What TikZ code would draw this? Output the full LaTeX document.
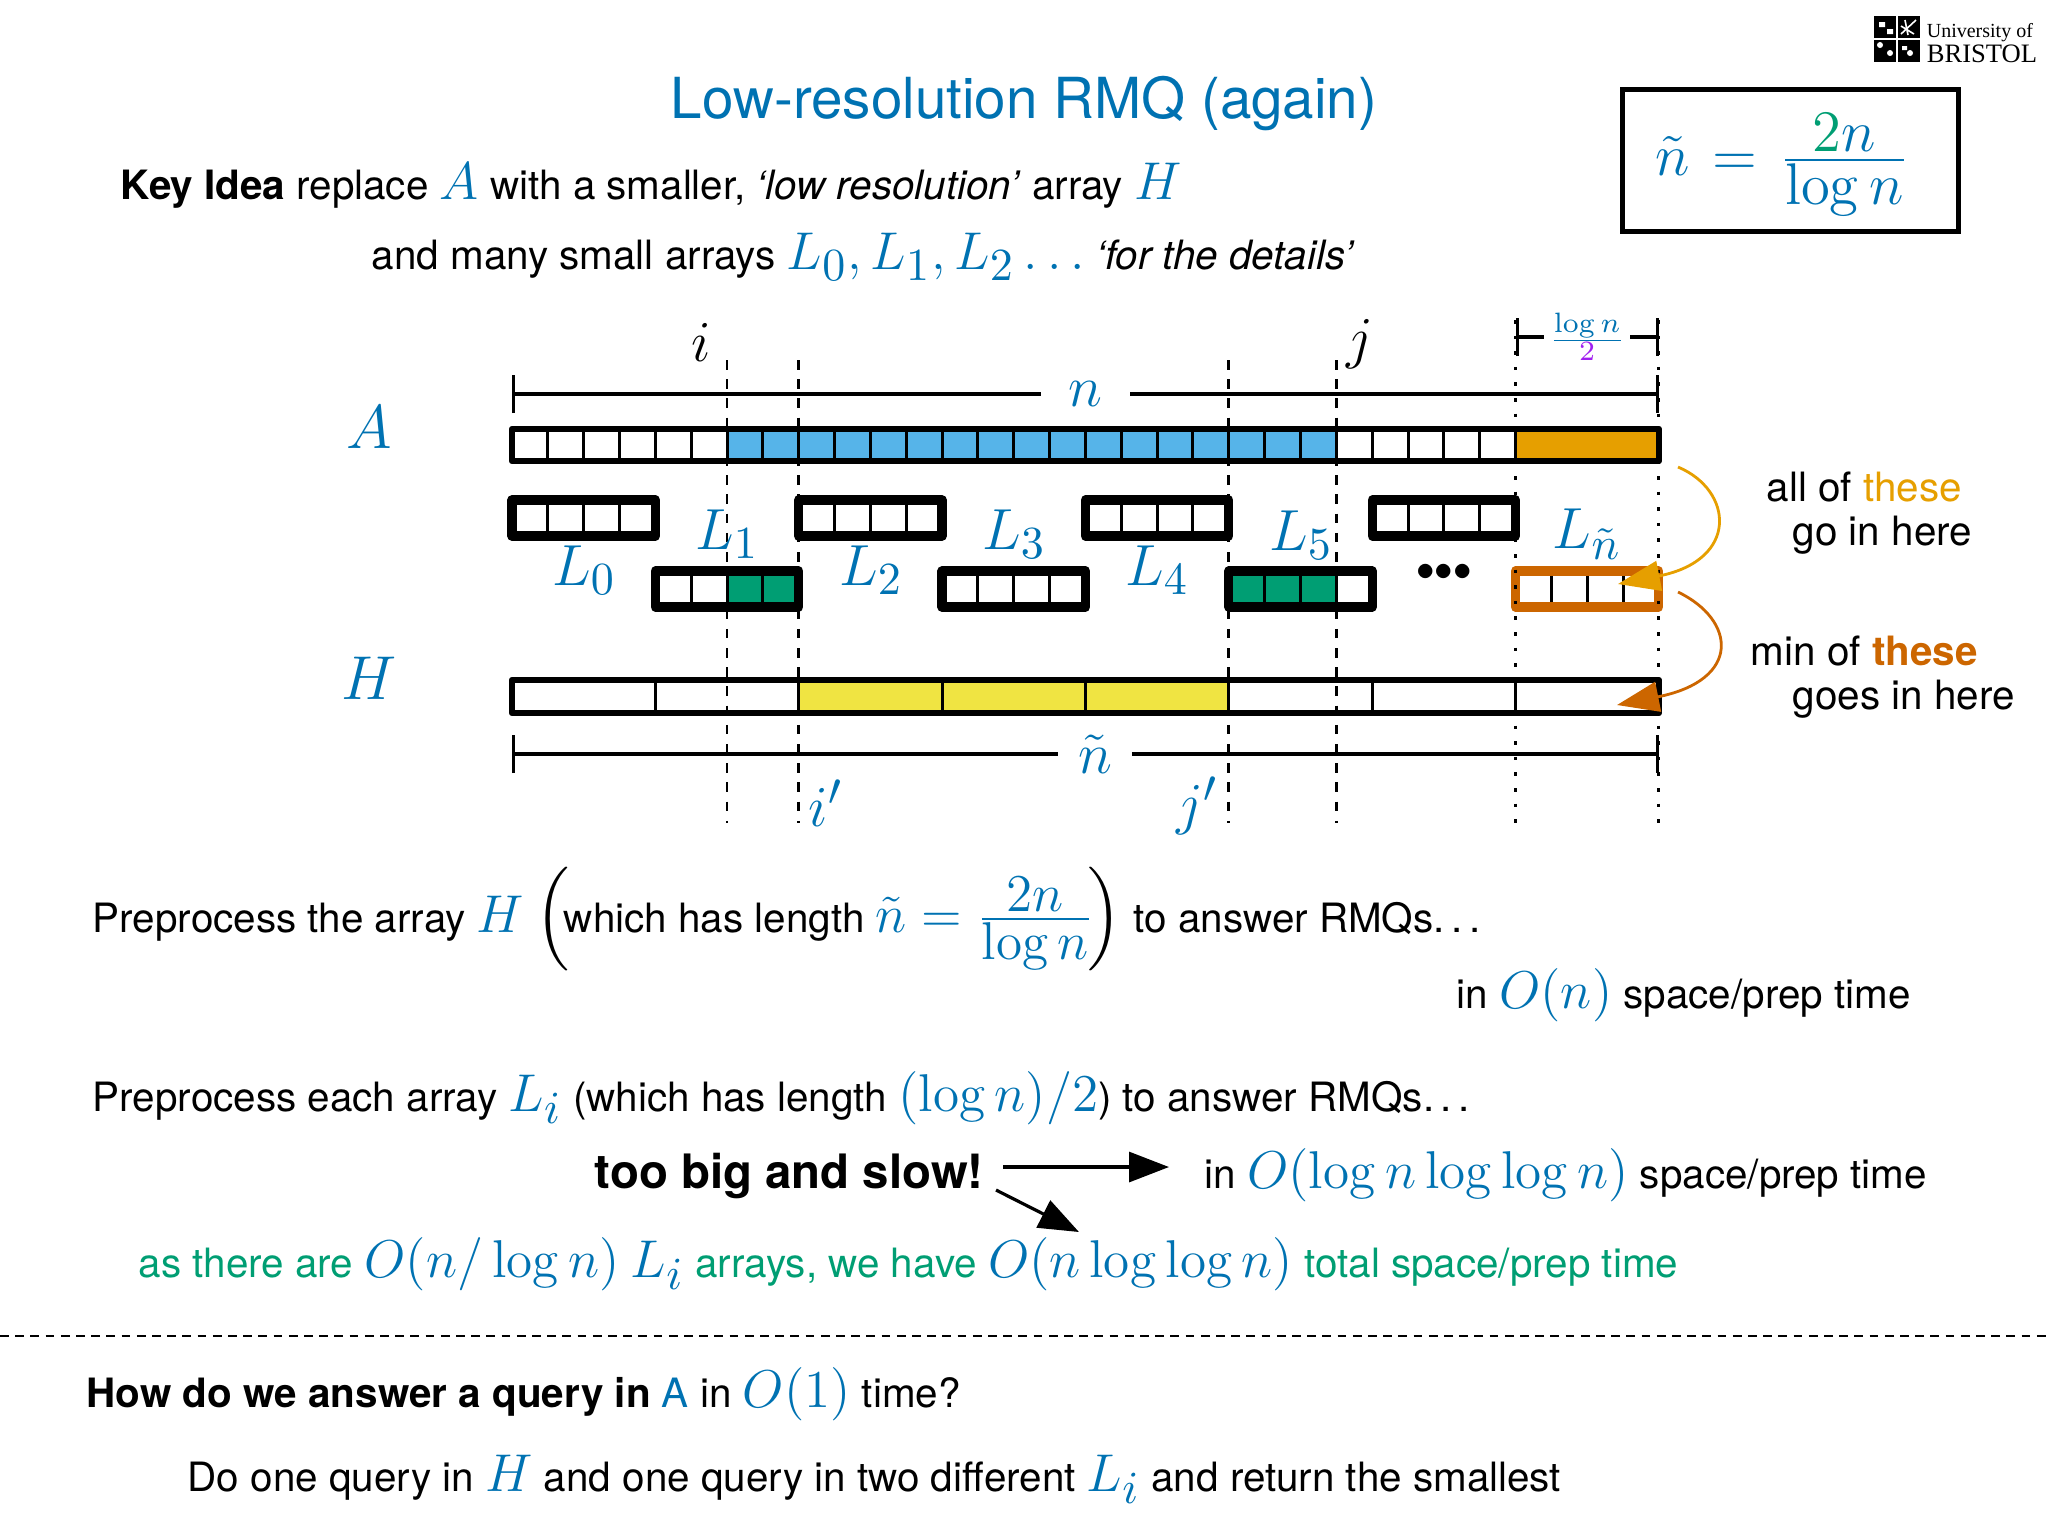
\RequirePackage{fix-cm}
\documentclass[tikz,border=0pt]{standalone}
\usepackage{amsmath}
\usepackage[no-math]{fontspec}
\setmainfont{TeX Gyre Heros}
\newfontfamily\logofont{Liberation Serif}
\usetikzlibrary{arrows.meta}
\DeclareMathSizes{10.1}{13.3}{11.5}{8}
\DeclareMathSizes{14.5}{14.5}{11.5}{9}
\definecolor{rmqblue}{HTML}{0072B2}
\definecolor{cellblue}{HTML}{56B4E9}
\definecolor{rmqgreen}{HTML}{009E73}
\definecolor{rmqyellow}{HTML}{F0E442}
\definecolor{rmqorange}{HTML}{E69F00}
\definecolor{rmqrust}{HTML}{CC6600}
\definecolor{rmqpurple}{HTML}{A020F0}
\newcommand{\mth}[1]{\textcolor{rmqblue}{$#1$}}
\newcommand{\slim}[2]{\frac{\displaystyle #1}{\displaystyle #2}}
\newcommand{\inL}[4]{\fill[#4] (#1,#3) rectangle (#2,#3+36);}
\newcommand{\sarr}[3]{\foreach \k in {1,2,3} \draw[cut] (#1+\k,#2) -- (#1+\k,#2+36); \draw[lbox,draw=#3] (#1,#2) rectangle (#1+4,#2+36);}
\tikzset{
	cut/.style={line width=.75pt},
	abox/.style={line width=1.6pt,line join=round},
	lbox/.style={line width=2.3pt,line join=round},
	guide/.style={line width=.7pt,dash pattern=on 2.4pt off 2.4pt},
	spot/.style={line width=.7pt,dash pattern=on .9pt off 3pt},
	dim/.style={line width=.8pt},
	txt/.style={anchor=base west,inner sep=0pt,font=\fontsize{10.1}{12}\selectfont},
	lab/.style={inner sep=0pt,font=\fontsize{14.5}{17}\selectfont},
	note/.style={line width=.7pt,-{Triangle[length=10.5pt,width=7.5pt]}},
	shout/.style={line width=.8pt,-{Triangle[length=10pt,width=7.5pt]}}
}
\begin{document}
\begin{tikzpicture}[x=.25pt,y=-.25pt]
	\useasboundingbox (0,0) rectangle (2048,1536);

	\node[anchor=base,inner sep=0pt,font=\fontsize{14.15}{17}\selectfont,text=rmqblue] (title) at (1024,118) {Low-resolution RMQ (again)};

	% logo
	\fill (1874,16) rectangle (1920,62);
	\draw[white,line width=.3pt] (1897,16) -- (1897,62) (1874,39) -- (1920,39);
	\fill[white] (1879,22) rectangle (1885,27) (1887,29) rectangle (1893,34) (1880,45) circle (3) (1890,53) circle (3) (1902,46) rectangle (1907,50) (1910,53) circle (3);
	\draw[white,line width=.4pt] (1901,34) -- (1916,20) (1901,26) -- (1914,34) (1905,20) -- (1908,35);
	\node[txt,font=\logofont\fontsize{5}{6}\selectfont] (univ) at (1926,37) {University of};
	\node[txt,font=\logofont\fontsize{6.65}{7}\selectfont] (bris) at (1926,62) {BRISTOL};

	% definition box
	\draw[line width=1.25pt] (1622,89) rectangle (1958,231);
	\node[inner sep=0pt,font=\fontsize{14.7}{18}\selectfont] (def) at (1782,165)
		{\textcolor{rmqblue}{$\tilde{n}\mkern 2mu=\mkern 2mu\slim{\textcolor{rmqgreen}{2}n}{\log n}$}};

	\node[txt] (key) at (120,199) {\textbf{Key Idea} replace \mth{A} with a smaller, \textit{‘low resolution’} array \mth{H}};
	\node[txt] (many) at (371,269) {and many small arrays \mth{L_0, L_1, L_2\ldots} \textit{‘for the details’}};

	\begin{scope}[shift={(512,0)},x=8.96pt]
		% array A
		\fill[cellblue] (6,429) rectangle (23,461);
		\fill[rmqorange] (28,429) rectangle (32,461);
		\foreach \k in {1,...,28} \draw[cut] (\k,429) -- (\k,461);
		\draw[abox] (0,429) rectangle (32,461);

		% small arrays
		\inL{6}{8}{571}{rmqgreen}
		\inL{20}{23}{571}{rmqgreen}
		\sarr{0}{500}{black}
		\sarr{8}{500}{black}
		\sarr{16}{500}{black}
		\sarr{24}{500}{black}
		\sarr{4}{571}{black}
		\sarr{12}{571}{black}
		\sarr{20}{571}{black}
		\sarr{28}{571}{rmqrust}

		% array H
		\fill[rmqyellow] (8,680) rectangle (20,713);
		\foreach \k in {4,8,...,28} \draw[cut] (\k,680) -- (\k,713);
		\draw[abox] (0,680) rectangle (32,713);

		% guides
		\draw[guide] (6,360) -- (6,823);
		\draw[guide] (8,360) -- (8,823);
		\draw[guide] (20,360) -- (20,823);
		\draw[guide] (23,360) -- (23,823);
		\draw[spot] (28,320) -- (28,823);
		\draw[spot] (32,320) -- (32,823);

		% measures
		\coordinate (nl) at (0,394);
		\coordinate (nr) at (32,394);
		\node[lab,minimum width=22pt] (nlen) at (16,394) {\mth{n}};
		\draw[dim,{Bar[width=9.5pt]}-] (nl) -- (nlen);
		\draw[dim,-{Bar[width=9.5pt]}] (nlen) -- (nr);
		\coordinate (ml) at (0,754);
		\coordinate (mr) at (32,754);
		\node[lab,minimum width=18pt] (mlen) at (16.27,754) {\mth{\tilde{n}}};
		\draw[dim,{Bar[width=9.5pt]}-] (ml) -- (mlen);
		\draw[dim,-{Bar[width=9.5pt]}] (mlen) -- (mr);
		\coordinate (bl) at (28,337);
		\coordinate (br) at (32,337);
		\node[inner sep=0pt,minimum width=21pt,font=\fontsize{7}{8.5}\selectfont] (blen) at (30,337)
			{\textcolor{rmqblue}{$\slim{\log n}{\textcolor{rmqpurple}{2}}$}};
		\draw[dim,{Bar[width=9.5pt]}-] (bl) -- (blen);
		\draw[dim,-{Bar[width=9.5pt]}] (blen) -- (br);
	\end{scope}

	\node[lab,font=\fontsize{15.5}{18}\selectfont] (la) at (369,427) {\mth{A}};
	\node[lab,font=\fontsize{15.5}{18}\selectfont] (lh) at (369,678) {\mth{H}};
	\node[lab] (li) at (701,342) {$i$};
	\node[lab] (lj) at (1360,344) {$j$};
	\node[lab] (lip) at (826,803) {\mth{i'}};
	\node[lab] (ljp) at (1197,806) {\mth{j'}};
	\node[lab] (l0) at (584,570) {\mth{L_0}};
	\node[lab] (l1) at (727,534) {\mth{L_1}};
	\node[lab] (l2) at (871,570) {\mth{L_2}};
	\node[lab] (l3) at (1014,534) {\mth{L_3}};
	\node[lab] (l4) at (1157,570) {\mth{L_4}};
	\node[lab] (l5) at (1301,535) {\mth{L_5}};
	\node[lab] (ln) at (1587,534) {\mth{L_{\tilde{n}}}};
	\node[inner sep=0pt,font=\fontsize{9}{10}\selectfont] (more) at (1444,572) {${\bullet}{\bullet}{\bullet}$};

	% the two notes
	\node[txt] (all) at (1766,501) {all of \textcolor{rmqorange}{these}};
	\node[txt] (go) at (1792,545) {go in here};
	\node[txt] (min) at (1750,665) {min of \textcolor{rmqrust}{\textbf{these}}};
	\node[txt] (goes) at (1792,709) {goes in here};
	\coordinate (allfrom) at (1678,467);
	\coordinate (allto) at (1618,584);
	\coordinate (minfrom) at (1678,592);
	\coordinate (minto) at (1617,705);
	\draw[note,rmqorange] (allfrom) .. controls (1733,490) and (1740,560) .. (allto);
	\draw[note,rmqrust] (minfrom) .. controls (1736,620) and (1742,680) .. (minto);

	% preprocessing
	\node[txt] (preh) at (92,932) {Preprocess the array \mth{H} $\Big(\mkern-2mu$which has length \mth{\tilde{n}=\slim{2n}{\log n}}$\mkern-2mu\Big)$ to answer RMQs.\,.\,.};
	\node[txt] (costh) at (1456,1008) {in \mth{O(n)} space/prep time};
	\node[txt] (prel) at (92,1111) {Preprocess each array \mth{L_i} (which has length \mth{(\log n)/2}) to answer RMQs.\,.\,.};
	\node[txt,font=\bfseries\fontsize{11.85}{14}\selectfont] (slow) at (594,1188) {too big and slow!};
	\node[txt] (costl) at (1204,1188) {in \mth{O(\log n\log\log n)} space/prep time};
	\node[txt,text=rmqgreen] (total) at (138,1277) {as there are \mth{O(n/\log n)} \mth{L_i} arrays, we have \mth{O(n\log\log n)} total space/prep time};
	\coordinate (sa) at (1003,1167);
	\coordinate (sb) at (1169,1167);
	\coordinate (sc) at (996,1190);
	\coordinate (sd) at (1079,1232);
	\draw[shout] (sa) -- (sb);
	\draw[shout] (sc) -- (sd);

	\coordinate (rl) at (0,1336);
	\coordinate (rr) at (2048,1336);
	\draw[line width=.5pt,dash pattern=on 2.2pt off 1.6pt] (rl) -- (rr);

	\node[txt] (quest) at (86,1407) {\textbf{How do we answer a query in} \textcolor{rmqblue}{A} in \mth{O(1)} time?};
	\node[txt] (answer) at (187,1491) {Do one query in \mth{H} and one query in two different \mth{L_i} and return the smallest};
\end{tikzpicture}
\end{document}
